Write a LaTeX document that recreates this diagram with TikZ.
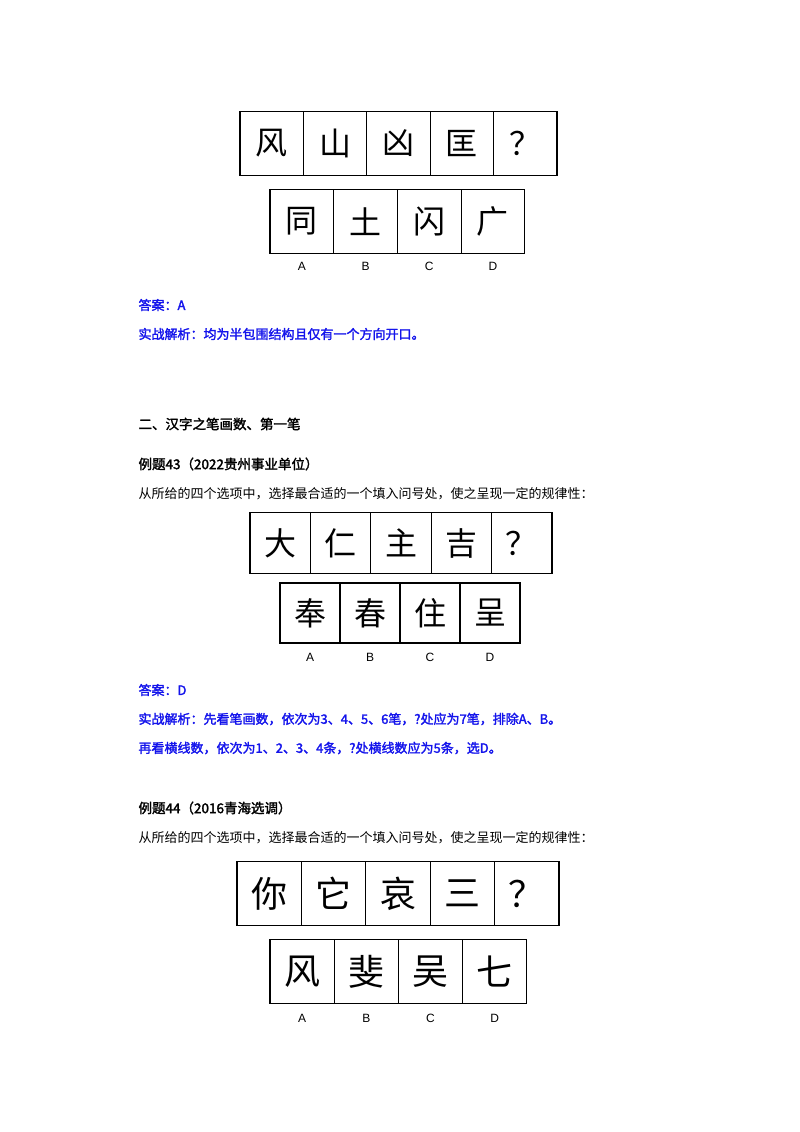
\documentclass[tikz,border=0pt]{standalone}
\usepackage{fontspec}
\setmainfont{Liberation Serif}
\newfontfamily\cjk{Noto Sans CJK SC}
\newfontfamily\cjkb{Noto Sans CJK SC}[FakeBold=2]
\newfontfamily\labf{Liberation Sans}
\definecolor{ansblue}{RGB}{20,20,235}
\tikzset{
 cell/.style={draw,line width=1.2pt,minimum width=#1,minimum height=#1,inner sep=0pt,font=\cjk\fontsize{32}{32}\selectfont},
 lab/.style={font=\labf\fontsize{12}{12}\selectfont},
 ans/.style={anchor=west,text=ansblue,font=\cjkb\fontsize{13}{14}\selectfont},
 body/.style={anchor=west,font=\cjk\fontsize{13}{14}\selectfont},
 head/.style={anchor=west,font=\cjkb\fontsize{13.5}{14}\selectfont}
}
\begin{document}
\begin{tikzpicture}[x=1pt,y=-1pt]
\useasboundingbox (0,0) rectangle (800,1132);
% puzzle 1
\foreach \c [count=\i] in {风,山,凶,匡,？}
 \node[cell=63.4pt] (pa\i) at (240+63.4*\i-31.7,143.5) {\c};
\foreach \c/\l [count=\i] in {同/A,土/B,闪/C,广/D}{
 \node[cell=63.7pt] (pb\i) at (270+63.7*\i-31.85,221.5) {\c};
 \node[lab] (pl\i) at (270+63.7*\i-31.85,266) {\l};}
\node[ans] (a1) at (135,305) {答案：A};
\node[ans] (a2) at (135,334) {实战解析：均为半包围结构且仅有一个方向开口。};
\node[head] (h1) at (135,424) {二、汉字之笔画数、第一笔};
\node[head] (h2) at (135,464) {例题43（2022贵州事业单位）};
\node[body] (b1) at (135,494) {从所给的四个选项中，选择最合适的一个填入问号处，使之呈现一定的规律性：};
% puzzle 2
\foreach \c [count=\i] in {大,仁,主,吉,？}
 \node[cell=60.4pt] (qa\i) at (250+60.4*\i-30.2,543) {\c};
\foreach \c/\l [count=\i] in {奉/A,春/B,住/C,呈/D}{
 \node[cell=60pt] (qb\i) at (280+60*\i-30,613) {\c};
 \node[lab] (ql\i) at (280+60*\i-30,657) {\l};}
\node[ans] (a3) at (135,690) {答案：D};
\node[ans] (a4) at (135,719) {实战解析：先看笔画数，依次为3、4、5、6笔，?处应为7笔，排除A、B。};
\node[ans] (a5) at (135,748) {再看横线数，依次为1、2、3、4条，?处横线数应为5条，选D。};
\node[head] (h3) at (135,808) {例题44（2016青海选调）};
\node[body] (b2) at (135,838) {从所给的四个选项中，选择最合适的一个填入问号处，使之呈现一定的规律性：};
% puzzle 3
\foreach \c [count=\i] in {你,它,哀,三,？}
 \node[cell=64.4pt,font=\cjk\fontsize{36}{36}\selectfont] (ra\i) at (237+64.4*\i-32.2,893.5) {\c};
\foreach \c/\l [count=\i] in {风/A,斐/B,吴/C,七/D}{
 \node[cell=64.2pt,font=\cjk\fontsize{36}{36}\selectfont] (rb\i) at (270+64.2*\i-32.1,971.5) {\c};
 \node[lab] (rl\i) at (270+64.2*\i-32.1,1018) {\l};}
\end{tikzpicture}
\end{document}
